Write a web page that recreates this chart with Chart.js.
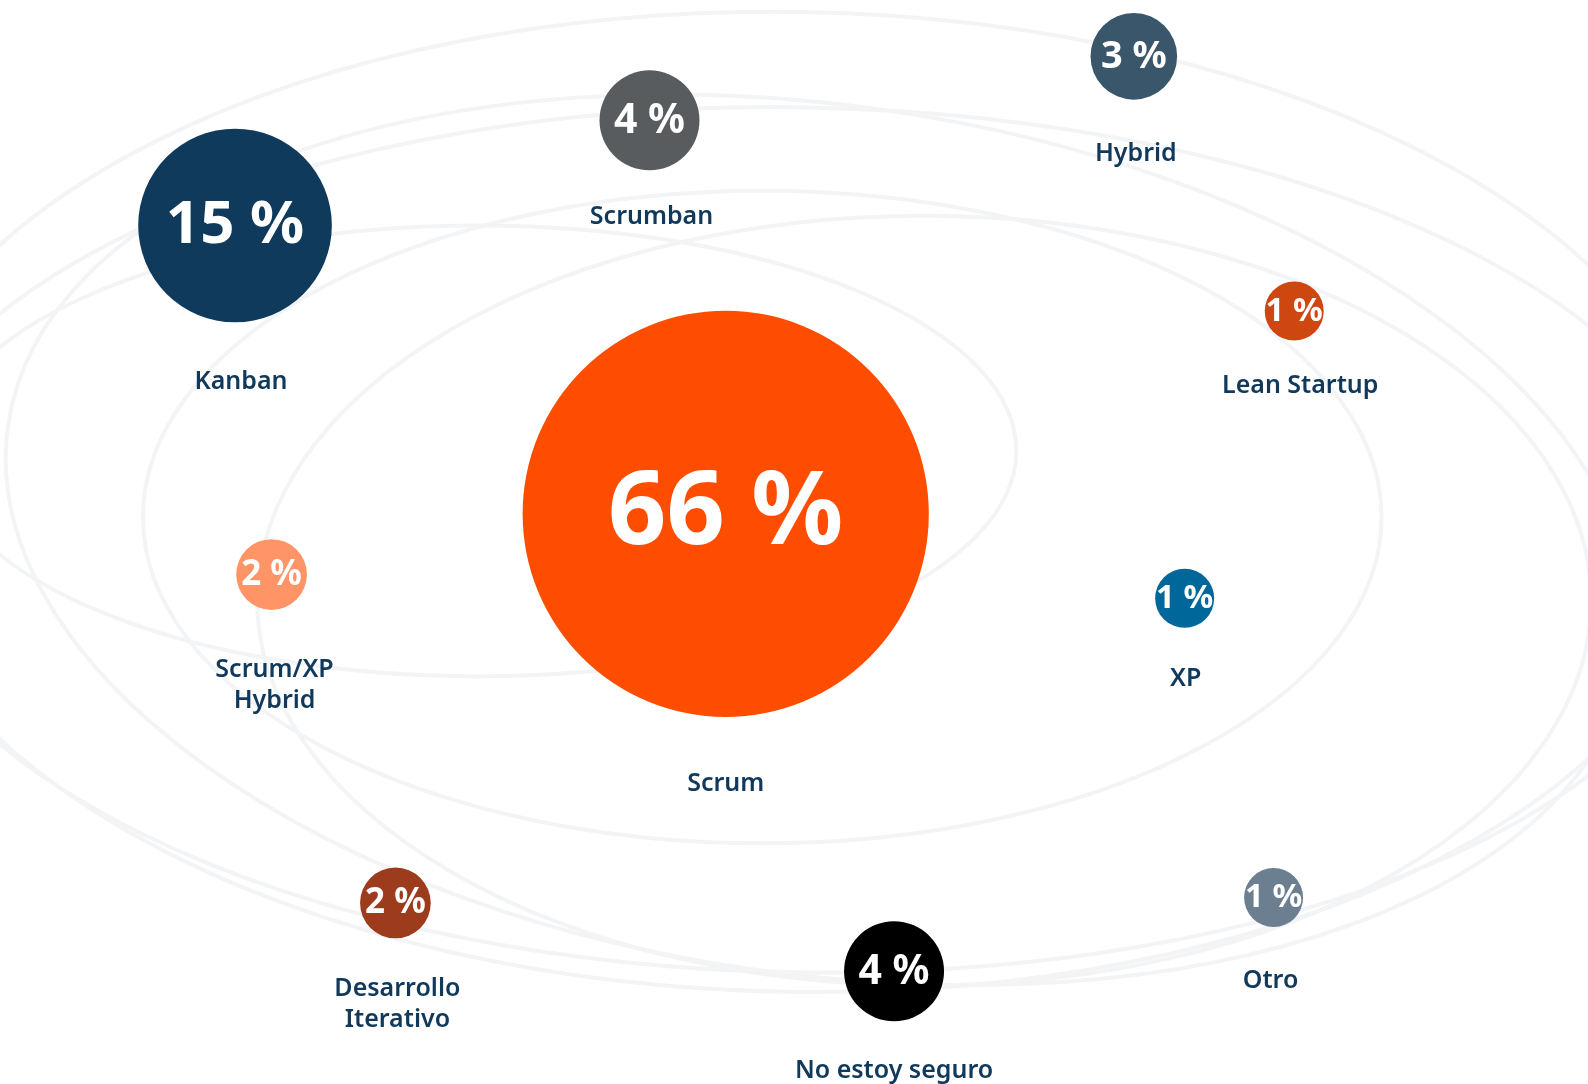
<!DOCTYPE html>
<html lang="es">
<head>
<meta charset="utf-8">
<title>Metodologías ágiles</title>
<script src="https://cdn.jsdelivr.net/npm/chart.js@4.4.1/dist/chart.umd.min.js"></script>
<style>
    html, body { margin: 0; padding: 0; background: #fff; }
    #wrap { width: 1588px; height: 1084px; }
</style>
</head>
<body>
<div id="wrap"><canvas id="orbitChart" width="1588" height="1084"></canvas></div>
<script>
"use strict";

const methods = ['Scrum', 'Kanban', 'Scrumban', 'Hybrid', 'Lean Startup', 'Scrum/XP\nHybrid', 'XP', 'Desarrollo\nIterativo', 'No estoy seguro', 'Otro'];
const shares = [66, 15, 4, 3, 1, 2, 1, 2, 4, 1];

// layout of the bubbles, in percent of page width / height
const posX = [45.7, 14.8, 40.9, 71.4, 81.5, 17.1, 74.6, 24.9, 56.3, 80.2];
const posY = [47.4, 20.8, 11.1, 5.2, 28.7, 53.0, 55.2, 83.3, 89.6, 82.8];

// small nudges for the name under each bubble (px)
const labelDx = [0, 6, 2, 2, 6, 3, 1, 2, 0, -3];
const labelDy = [1, 4, -4, 4, -4, 10, 2, 1, -1, 5];

const colors = ['#ff4d00', '#0f3a5c', '#595c5e', '#3a566b', '#cf4710', '#ff9466', '#00679a', '#9c3c1d', '#000000', '#6b7f90'];

// background orbits: centre x, centre y, radius x, radius y (percent units), tilt in degrees
const orbits = [
    [50.0, 46.3, 57.9, 45.2, 1],
    [50.4, 49.8, 58.1, 39.9, 1],
    [48.0, 47.7, 39.0, 30.1, 0],
    [30.1, 41.6, 33.9, 20.8, 0],
    [58.2, 55.4, 42.0, 35.5, 0],
    [51.6, 49.8, 51.6, 40.1, 8]
];

const labelColor = '#10395c';

function bubbleRadius(v) {
    return Math.max(29.5, 25 * Math.sqrt(v));
}

const orbitPlugin = {
    id: 'orbits',
    beforeDatasetsDraw(chart) {
        const { ctx, scales: { x, y } } = chart;
        ctx.save();
        ctx.strokeStyle = '#f3f4f6';
        ctx.lineWidth = 4;
        orbits.forEach(o => {
            const cx = x.getPixelForValue(o[0]);
            const cy = y.getPixelForValue(o[1]);
            const rx = Math.abs(x.getPixelForValue(o[0] + o[2]) - cx);
            const ry = Math.abs(y.getPixelForValue(o[1] + o[3]) - cy);
            ctx.beginPath();
            ctx.ellipse(cx, cy, rx, ry, o[4] * Math.PI / 180, 0, Math.PI * 2);
            ctx.stroke();
        });
        ctx.restore();
    }
};

const labelPlugin = {
    id: 'bubbleLabels',
    afterDatasetsDraw(chart) {
        const ctx = chart.ctx;
        const meta = chart.getDatasetMeta(0);
        ctx.save();
        ctx.textAlign = 'center';
        meta.data.forEach((el, i) => {
            const r = el.options.radius;
            const fs = Math.round(0.4 * r + 21);

            // percentage inside the bubble
            ctx.fillStyle = '#ffffff';
            ctx.font = `700 ${fs}px "Noto Sans", "Open Sans", sans-serif`;
            ctx.textBaseline = 'alphabetic';
            ctx.fillText(`${shares[i]} %`, el.x, el.y + fs * 0.30);

            // method name under the bubble
            ctx.fillStyle = labelColor;
            ctx.font = '600 25px "Noto Sans", "Open Sans", sans-serif';
            ctx.textBaseline = 'middle';
            const lines = methods[i].split('\n');
            const top = el.y + r + 46 + 0.1 * r + labelDy[i];
            lines.forEach((line, k) => {
                ctx.fillText(line, el.x + labelDx[i], top + k * 31);
            });
        });
        ctx.restore();
    }
};

document.addEventListener('DOMContentLoaded', () => {
    const canvas = document.getElementById('orbitChart');

    const points = methods.map((m, i) => ({
        x: posX[i],
        y: posY[i],
        r: bubbleRadius(shares[i])
    }));

    new Chart(canvas.getContext('2d'), {
        type: 'bubble',
        data: {
            labels: methods,
            datasets: [{
                label: 'Metodología',
                data: points,
                backgroundColor: colors,
                borderWidth: 0,
                hoverBorderWidth: 0
            }]
        },
        options: {
            responsive: false,
            animation: false,
            events: [],
            layout: { autoPadding: false, padding: 0 },
            plugins: {
                legend: { display: false },
                tooltip: { enabled: false }
            },
            scales: {
                x: { type: 'linear', min: 0, max: 100, display: false },
                y: { type: 'linear', min: 0, max: 100, reverse: true, display: false }
            },
            clip: false
        },
        plugins: [orbitPlugin, labelPlugin]
    });
});
</script>
</body>
</html>
